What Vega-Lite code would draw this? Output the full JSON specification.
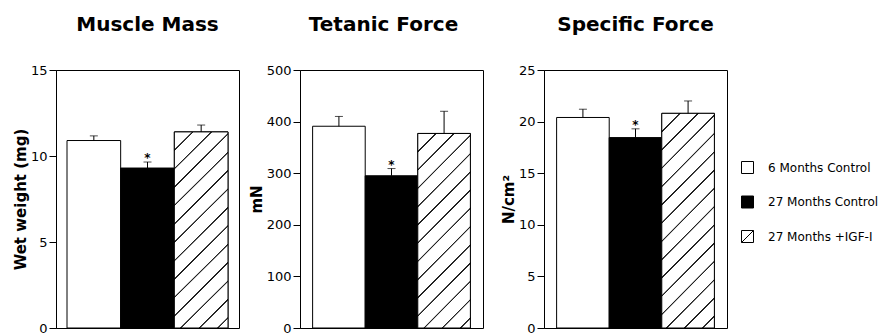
{
  "$schema": "https://vega.github.io/schema/vega-lite/v6.json",
  "padding": {"left": 12, "top": 14, "right": 0, "bottom": 0},
  "bounds": "flush",
  "spacing": 61,
  "data": {"values": [
    {"panel": "mass", "group": "6 Months Control", "mean": 10.9, "upper": 11.17, "sig": ""},
    {"panel": "mass", "group": "27 Months Control", "mean": 9.3, "upper": 9.65, "sig": "*"},
    {"panel": "mass", "group": "27 Months +IGF-I", "mean": 11.4, "upper": 11.8, "sig": ""},
    {"panel": "tetanic", "group": "6 Months Control", "mean": 391, "upper": 410, "sig": ""},
    {"panel": "tetanic", "group": "27 Months Control", "mean": 295, "upper": 309, "sig": "*"},
    {"panel": "tetanic", "group": "27 Months +IGF-I", "mean": 377, "upper": 420, "sig": ""},
    {"panel": "specific", "group": "6 Months Control", "mean": 20.4, "upper": 21.2, "sig": ""},
    {"panel": "specific", "group": "27 Months Control", "mean": 18.45, "upper": 19.3, "sig": "*"},
    {"panel": "specific", "group": "27 Months +IGF-I", "mean": 20.8, "upper": 22.0, "sig": ""}
  ]},
  "hconcat": [
    {
      "width": 183, "height": 258,
      "title": {"text": "Muscle Mass"},
      "transform": [{"filter": "datum.panel === 'mass'"}],
      "encoding": {
        "x": {"field": "group", "type": "nominal", "axis": null,
              "scale": {"domain": ["6 Months Control", "27 Months Control", "27 Months +IGF-I"], "paddingInner": 0, "paddingOuter": 0.205}}
      },
      "layer": [
        {"mark": {"type": "point", "filled": true, "size": 0, "opacity": 1, "strokeWidth": 1},
         "encoding": {
           "y": {"field": "mean", "type": "quantitative", "title": "Wet weight (mg)", "scale": {"domain": [0, 15], "nice": false}, "axis": {"values": [0, 5, 10, 15]}},
           "fill": {"field": "group", "type": "nominal",
                    "scale": {"domain": ["6 Months Control", "27 Months Control", "27 Months +IGF-I"], "range": ["white", "black", "white"]},
                    "legend": {"orient": "none", "legendX": 685, "legendY": 91, "title": null, "symbolSize": 144, "symbolOpacity": 1, "symbolStrokeWidth": 1, "labelFontSize": 12, "labelColor": "black", "labelFont": "DejaVu Sans", "rowPadding": 17.5, "labelOffset": 14, "labelLimit": 200, "padding": 0}},
           "stroke": {"field": "group", "type": "nominal",
                    "scale": {"domain": ["6 Months Control", "27 Months Control", "27 Months +IGF-I"], "range": ["black", "black", "black"]},
                    "legend": {"orient": "none", "legendX": 685, "legendY": 91, "title": null, "symbolSize": 144, "symbolOpacity": 1, "symbolStrokeWidth": 1, "labelFontSize": 12, "labelColor": "black", "labelFont": "DejaVu Sans", "rowPadding": 17.5, "labelOffset": 14, "labelLimit": 200, "padding": 0}},
           "shape": {"field": "group", "type": "nominal",
                    "scale": {"domain": ["6 Months Control", "27 Months Control", "27 Months +IGF-I"], "range": ["M-1,-1H1V1H-1Z", "M-1,-1H1V1H-1Z", "M-1,-1H1V1H-1ZM-1,1L1,-1"]},
                    "legend": {"orient": "none", "legendX": 685, "legendY": 91, "title": null, "symbolSize": 144, "symbolOpacity": 1, "symbolStrokeWidth": 1, "labelFontSize": 12, "labelColor": "black", "labelFont": "DejaVu Sans", "rowPadding": 17.5, "labelOffset": 14, "labelLimit": 200, "padding": 0}}
         }},
        {"mark": {"type": "bar", "stroke": "black", "strokeWidth": 1},
         "encoding": {
           "y": {"field": "mean", "type": "quantitative", "title": "Wet weight (mg)"},
           "fill": {"condition": {"test": "datum.group === '27 Months Control'", "value": "black"}, "value": "white"}
         }},
        {"transform": [{"filter": "datum.group === '27 Months +IGF-I'"}],
         "mark": {"type": "bar", "stroke": "black", "strokeWidth": 1,
                  "fill": {"gradient": "linear", "x1": 0, "y1": 0, "x2": 0.3219, "y2": 1.1843, "stops": [
                    {"offset": 0, "color": "#fff"},
                    {"offset": 0.0693, "color": "#fff"}, {"offset": 0.0713, "color": "#222"}, {"offset": 0.0763, "color": "#222"}, {"offset": 0.0783, "color": "#fff"},
                    {"offset": 0.1431, "color": "#fff"}, {"offset": 0.1451, "color": "#222"}, {"offset": 0.1501, "color": "#222"}, {"offset": 0.1521, "color": "#fff"},
                    {"offset": 0.2169, "color": "#fff"}, {"offset": 0.2189, "color": "#222"}, {"offset": 0.2239, "color": "#222"}, {"offset": 0.2259, "color": "#fff"},
                    {"offset": 0.2907, "color": "#fff"}, {"offset": 0.2927, "color": "#222"}, {"offset": 0.2977, "color": "#222"}, {"offset": 0.2997, "color": "#fff"},
                    {"offset": 0.3645, "color": "#fff"}, {"offset": 0.3665, "color": "#222"}, {"offset": 0.3715, "color": "#222"}, {"offset": 0.3735, "color": "#fff"},
                    {"offset": 0.4382, "color": "#fff"}, {"offset": 0.4402, "color": "#222"}, {"offset": 0.4452, "color": "#222"}, {"offset": 0.4472, "color": "#fff"},
                    {"offset": 0.5120, "color": "#fff"}, {"offset": 0.5140, "color": "#222"}, {"offset": 0.5190, "color": "#222"}, {"offset": 0.5210, "color": "#fff"},
                    {"offset": 0.5858, "color": "#fff"}, {"offset": 0.5878, "color": "#222"}, {"offset": 0.5928, "color": "#222"}, {"offset": 0.5948, "color": "#fff"},
                    {"offset": 0.6596, "color": "#fff"}, {"offset": 0.6616, "color": "#222"}, {"offset": 0.6666, "color": "#222"}, {"offset": 0.6686, "color": "#fff"},
                    {"offset": 0.7334, "color": "#fff"}, {"offset": 0.7354, "color": "#222"}, {"offset": 0.7404, "color": "#222"}, {"offset": 0.7424, "color": "#fff"},
                    {"offset": 0.8072, "color": "#fff"}, {"offset": 0.8092, "color": "#222"}, {"offset": 0.8142, "color": "#222"}, {"offset": 0.8162, "color": "#fff"},
                    {"offset": 0.8810, "color": "#fff"}, {"offset": 0.8830, "color": "#222"}, {"offset": 0.8880, "color": "#222"}, {"offset": 0.8900, "color": "#fff"},
                    {"offset": 0.9548, "color": "#fff"}, {"offset": 0.9568, "color": "#222"}, {"offset": 0.9618, "color": "#222"}, {"offset": 0.9638, "color": "#fff"},
                    {"offset": 1, "color": "#fff"}]}},
         "encoding": {"y": {"field": "mean", "type": "quantitative", "title": "Wet weight (mg)"}}},
        {"mark": {"type": "rule", "color": "black", "strokeWidth": 1},
         "encoding": {"y": {"field": "mean", "type": "quantitative", "title": "Wet weight (mg)"}, "y2": {"field": "upper"}}},
        {"mark": {"type": "tick", "color": "black", "size": 8, "thickness": 1},
         "encoding": {"y": {"field": "upper", "type": "quantitative", "title": "Wet weight (mg)"}}},
        {"mark": {"type": "text", "baseline": "alphabetic", "fontSize": 12, "fontWeight": "bold", "font": "DejaVu Sans", "color": "black"},
         "encoding": {"y": {"field": "upper", "type": "quantitative", "title": "Wet weight (mg)"}, "text": {"field": "sig"}}}
      ]
    },
    {
      "width": 183, "height": 258,
      "title": {"text": "Tetanic Force", "dx": -8},
      "transform": [{"filter": "datum.panel === 'tetanic'"}],
      "encoding": {
        "x": {"field": "group", "type": "nominal", "axis": null,
              "scale": {"domain": ["6 Months Control", "27 Months Control", "27 Months +IGF-I"], "paddingInner": 0, "paddingOuter": 0.24}}
      },
      "layer": [
        {"mark": {"type": "point", "filled": true, "size": 0, "opacity": 1, "strokeWidth": 1},
         "encoding": {
           "y": {"field": "mean", "type": "quantitative", "title": "mN", "scale": {"domain": [0, 500], "nice": false}, "axis": {"values": [0, 100, 200, 300, 400, 500]}},
           "fill": {"field": "group", "type": "nominal",
                    "scale": {"domain": ["6 Months Control", "27 Months Control", "27 Months +IGF-I"], "range": ["white", "black", "white"]},
                    "legend": {"orient": "none", "legendX": 685, "legendY": 91, "title": null, "symbolSize": 144, "symbolOpacity": 1, "symbolStrokeWidth": 1, "labelFontSize": 12, "labelColor": "black", "labelFont": "DejaVu Sans", "rowPadding": 17.5, "labelOffset": 14, "labelLimit": 200, "padding": 0}},
           "stroke": {"field": "group", "type": "nominal",
                    "scale": {"domain": ["6 Months Control", "27 Months Control", "27 Months +IGF-I"], "range": ["black", "black", "black"]},
                    "legend": {"orient": "none", "legendX": 685, "legendY": 91, "title": null, "symbolSize": 144, "symbolOpacity": 1, "symbolStrokeWidth": 1, "labelFontSize": 12, "labelColor": "black", "labelFont": "DejaVu Sans", "rowPadding": 17.5, "labelOffset": 14, "labelLimit": 200, "padding": 0}},
           "shape": {"field": "group", "type": "nominal",
                    "scale": {"domain": ["6 Months Control", "27 Months Control", "27 Months +IGF-I"], "range": ["M-1,-1H1V1H-1Z", "M-1,-1H1V1H-1Z", "M-1,-1H1V1H-1ZM-1,1L1,-1"]},
                    "legend": {"orient": "none", "legendX": 685, "legendY": 91, "title": null, "symbolSize": 144, "symbolOpacity": 1, "symbolStrokeWidth": 1, "labelFontSize": 12, "labelColor": "black", "labelFont": "DejaVu Sans", "rowPadding": 17.5, "labelOffset": 14, "labelLimit": 200, "padding": 0}}
         }},
        {"mark": {"type": "bar", "stroke": "black", "strokeWidth": 1},
         "encoding": {
           "y": {"field": "mean", "type": "quantitative", "title": "mN"},
           "fill": {"condition": {"test": "datum.group === '27 Months Control'", "value": "black"}, "value": "white"}
         }},
        {"transform": [{"filter": "datum.group === '27 Months +IGF-I'"}],
         "mark": {"type": "bar", "stroke": "black", "strokeWidth": 1,
                  "fill": {"gradient": "linear", "x1": 0, "y1": 0, "x2": 0.3219, "y2": 1.1843, "stops": [
                    {"offset": 0, "color": "#fff"},
                    {"offset": 0.0693, "color": "#fff"}, {"offset": 0.0713, "color": "#222"}, {"offset": 0.0763, "color": "#222"}, {"offset": 0.0783, "color": "#fff"},
                    {"offset": 0.1431, "color": "#fff"}, {"offset": 0.1451, "color": "#222"}, {"offset": 0.1501, "color": "#222"}, {"offset": 0.1521, "color": "#fff"},
                    {"offset": 0.2169, "color": "#fff"}, {"offset": 0.2189, "color": "#222"}, {"offset": 0.2239, "color": "#222"}, {"offset": 0.2259, "color": "#fff"},
                    {"offset": 0.2907, "color": "#fff"}, {"offset": 0.2927, "color": "#222"}, {"offset": 0.2977, "color": "#222"}, {"offset": 0.2997, "color": "#fff"},
                    {"offset": 0.3645, "color": "#fff"}, {"offset": 0.3665, "color": "#222"}, {"offset": 0.3715, "color": "#222"}, {"offset": 0.3735, "color": "#fff"},
                    {"offset": 0.4382, "color": "#fff"}, {"offset": 0.4402, "color": "#222"}, {"offset": 0.4452, "color": "#222"}, {"offset": 0.4472, "color": "#fff"},
                    {"offset": 0.5120, "color": "#fff"}, {"offset": 0.5140, "color": "#222"}, {"offset": 0.5190, "color": "#222"}, {"offset": 0.5210, "color": "#fff"},
                    {"offset": 0.5858, "color": "#fff"}, {"offset": 0.5878, "color": "#222"}, {"offset": 0.5928, "color": "#222"}, {"offset": 0.5948, "color": "#fff"},
                    {"offset": 0.6596, "color": "#fff"}, {"offset": 0.6616, "color": "#222"}, {"offset": 0.6666, "color": "#222"}, {"offset": 0.6686, "color": "#fff"},
                    {"offset": 0.7334, "color": "#fff"}, {"offset": 0.7354, "color": "#222"}, {"offset": 0.7404, "color": "#222"}, {"offset": 0.7424, "color": "#fff"},
                    {"offset": 0.8072, "color": "#fff"}, {"offset": 0.8092, "color": "#222"}, {"offset": 0.8142, "color": "#222"}, {"offset": 0.8162, "color": "#fff"},
                    {"offset": 0.8810, "color": "#fff"}, {"offset": 0.8830, "color": "#222"}, {"offset": 0.8880, "color": "#222"}, {"offset": 0.8900, "color": "#fff"},
                    {"offset": 0.9548, "color": "#fff"}, {"offset": 0.9568, "color": "#222"}, {"offset": 0.9618, "color": "#222"}, {"offset": 0.9638, "color": "#fff"},
                    {"offset": 1, "color": "#fff"}]}},
         "encoding": {"y": {"field": "mean", "type": "quantitative", "title": "mN"}}},
        {"mark": {"type": "rule", "color": "black", "strokeWidth": 1},
         "encoding": {"y": {"field": "mean", "type": "quantitative", "title": "mN"}, "y2": {"field": "upper"}}},
        {"mark": {"type": "tick", "color": "black", "size": 8, "thickness": 1},
         "encoding": {"y": {"field": "upper", "type": "quantitative", "title": "mN"}}},
        {"mark": {"type": "text", "baseline": "alphabetic", "fontSize": 12, "fontWeight": "bold", "font": "DejaVu Sans", "color": "black"},
         "encoding": {"y": {"field": "upper", "type": "quantitative", "title": "mN"}, "text": {"field": "sig"}}}
      ]
    },
    {
      "width": 183, "height": 258,
      "title": {"text": "Specific Force"},
      "transform": [{"filter": "datum.panel === 'specific'"}],
      "encoding": {
        "x": {"field": "group", "type": "nominal", "axis": null,
              "scale": {"domain": ["6 Months Control", "27 Months Control", "27 Months +IGF-I"], "paddingInner": 0, "paddingOuter": 0.24}}
      },
      "layer": [
        {"mark": {"type": "point", "filled": true, "size": 0, "opacity": 1, "strokeWidth": 1},
         "encoding": {
           "y": {"field": "mean", "type": "quantitative", "title": "N/cm²", "scale": {"domain": [0, 25], "nice": false}, "axis": {"values": [0, 5, 10, 15, 20, 25]}},
           "fill": {"field": "group", "type": "nominal",
                    "scale": {"domain": ["6 Months Control", "27 Months Control", "27 Months +IGF-I"], "range": ["white", "black", "white"]},
                    "legend": {"orient": "none", "legendX": 685, "legendY": 91, "title": null, "symbolSize": 144, "symbolOpacity": 1, "symbolStrokeWidth": 1, "labelFontSize": 12, "labelColor": "black", "labelFont": "DejaVu Sans", "rowPadding": 17.5, "labelOffset": 14, "labelLimit": 200, "padding": 0}},
           "stroke": {"field": "group", "type": "nominal",
                    "scale": {"domain": ["6 Months Control", "27 Months Control", "27 Months +IGF-I"], "range": ["black", "black", "black"]},
                    "legend": {"orient": "none", "legendX": 685, "legendY": 91, "title": null, "symbolSize": 144, "symbolOpacity": 1, "symbolStrokeWidth": 1, "labelFontSize": 12, "labelColor": "black", "labelFont": "DejaVu Sans", "rowPadding": 17.5, "labelOffset": 14, "labelLimit": 200, "padding": 0}},
           "shape": {"field": "group", "type": "nominal",
                    "scale": {"domain": ["6 Months Control", "27 Months Control", "27 Months +IGF-I"], "range": ["M-1,-1H1V1H-1Z", "M-1,-1H1V1H-1Z", "M-1,-1H1V1H-1ZM-1,1L1,-1"]},
                    "legend": {"orient": "none", "legendX": 685, "legendY": 91, "title": null, "symbolSize": 144, "symbolOpacity": 1, "symbolStrokeWidth": 1, "labelFontSize": 12, "labelColor": "black", "labelFont": "DejaVu Sans", "rowPadding": 17.5, "labelOffset": 14, "labelLimit": 200, "padding": 0}}
         }},
        {"mark": {"type": "bar", "stroke": "black", "strokeWidth": 1},
         "encoding": {
           "y": {"field": "mean", "type": "quantitative", "title": "N/cm²"},
           "fill": {"condition": {"test": "datum.group === '27 Months Control'", "value": "black"}, "value": "white"}
         }},
        {"transform": [{"filter": "datum.group === '27 Months +IGF-I'"}],
         "mark": {"type": "bar", "stroke": "black", "strokeWidth": 1,
                  "fill": {"gradient": "linear", "x1": 0, "y1": 0, "x2": 0.2897, "y2": 1.1752, "stops": [
                    {"offset": 0, "color": "#fff"},
                    {"offset": 0.0641, "color": "#fff"}, {"offset": 0.0660, "color": "#222"}, {"offset": 0.0706, "color": "#222"}, {"offset": 0.0725, "color": "#fff"},
                    {"offset": 0.1324, "color": "#fff"}, {"offset": 0.1343, "color": "#222"}, {"offset": 0.1389, "color": "#222"}, {"offset": 0.1408, "color": "#fff"},
                    {"offset": 0.2006, "color": "#fff"}, {"offset": 0.2025, "color": "#222"}, {"offset": 0.2071, "color": "#222"}, {"offset": 0.2090, "color": "#fff"},
                    {"offset": 0.2689, "color": "#fff"}, {"offset": 0.2708, "color": "#222"}, {"offset": 0.2754, "color": "#222"}, {"offset": 0.2773, "color": "#fff"},
                    {"offset": 0.3372, "color": "#fff"}, {"offset": 0.3391, "color": "#222"}, {"offset": 0.3437, "color": "#222"}, {"offset": 0.3456, "color": "#fff"},
                    {"offset": 0.4055, "color": "#fff"}, {"offset": 0.4074, "color": "#222"}, {"offset": 0.4120, "color": "#222"}, {"offset": 0.4139, "color": "#fff"},
                    {"offset": 0.4738, "color": "#fff"}, {"offset": 0.4757, "color": "#222"}, {"offset": 0.4803, "color": "#222"}, {"offset": 0.4822, "color": "#fff"},
                    {"offset": 0.5420, "color": "#fff"}, {"offset": 0.5439, "color": "#222"}, {"offset": 0.5485, "color": "#222"}, {"offset": 0.5504, "color": "#fff"},
                    {"offset": 0.6103, "color": "#fff"}, {"offset": 0.6122, "color": "#222"}, {"offset": 0.6168, "color": "#222"}, {"offset": 0.6187, "color": "#fff"},
                    {"offset": 0.6786, "color": "#fff"}, {"offset": 0.6805, "color": "#222"}, {"offset": 0.6851, "color": "#222"}, {"offset": 0.6870, "color": "#fff"},
                    {"offset": 0.7469, "color": "#fff"}, {"offset": 0.7488, "color": "#222"}, {"offset": 0.7534, "color": "#222"}, {"offset": 0.7553, "color": "#fff"},
                    {"offset": 0.8152, "color": "#fff"}, {"offset": 0.8171, "color": "#222"}, {"offset": 0.8217, "color": "#222"}, {"offset": 0.8236, "color": "#fff"},
                    {"offset": 0.8834, "color": "#fff"}, {"offset": 0.8853, "color": "#222"}, {"offset": 0.8899, "color": "#222"}, {"offset": 0.8918, "color": "#fff"},
                    {"offset": 0.9517, "color": "#fff"}, {"offset": 0.9536, "color": "#222"}, {"offset": 0.9582, "color": "#222"}, {"offset": 0.9601, "color": "#fff"},
                    {"offset": 1, "color": "#fff"}]}},
         "encoding": {"y": {"field": "mean", "type": "quantitative", "title": "N/cm²"}}},
        {"mark": {"type": "rule", "color": "black", "strokeWidth": 1},
         "encoding": {"y": {"field": "mean", "type": "quantitative", "title": "N/cm²"}, "y2": {"field": "upper"}}},
        {"mark": {"type": "tick", "color": "black", "size": 8, "thickness": 1},
         "encoding": {"y": {"field": "upper", "type": "quantitative", "title": "N/cm²"}}},
        {"mark": {"type": "text", "baseline": "alphabetic", "fontSize": 12, "fontWeight": "bold", "font": "DejaVu Sans", "color": "black"},
         "encoding": {"y": {"field": "upper", "type": "quantitative", "title": "N/cm²"}, "text": {"field": "sig"}}}
      ]
    }
  ],
  "resolve": {"scale": {"x": "independent", "y": "independent", "fill": "shared", "shape": "shared", "stroke": "shared"}, "legend": {"fill": "shared", "shape": "shared", "stroke": "shared"}},
  "config": {
    "view": {"stroke": "black", "strokeWidth": 1},
    "font": "DejaVu Sans",
    "axis": {"domainColor": "black", "domainWidth": 1, "tickColor": "black", "tickSize": 7, "tickWidth": 1, "labelPadding": 2, "labelFont": "DejaVu Sans", "labelFontSize": 13, "labelColor": "black", "labelFlush": false, "labelOverlap": false, "titleFont": "DejaVu Sans", "titleFontSize": 15, "titleFontWeight": "bold", "titleColor": "black", "titlePadding": 2, "grid": false},
    "title": {"font": "DejaVu Sans", "fontSize": 20, "fontWeight": "bold", "color": "black", "offset": 29, "anchor": "middle"}
  }
}
